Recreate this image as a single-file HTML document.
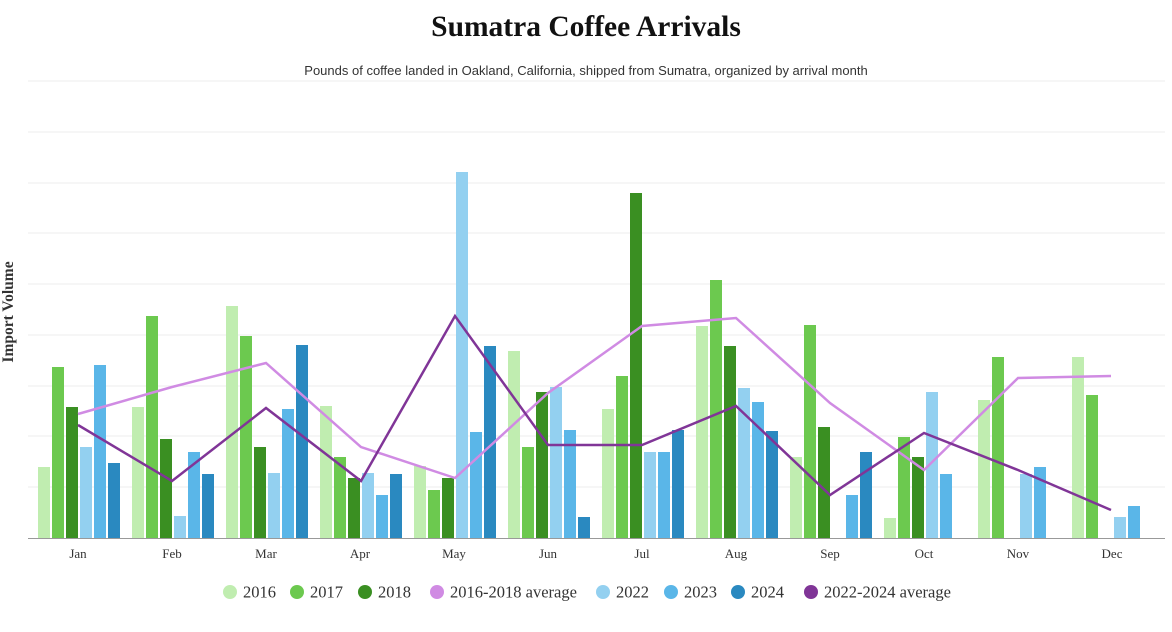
<!DOCTYPE html>
<html><head><meta charset="utf-8"><style>
body{margin:0;background:#fff;}
svg text{font-family:"Liberation Serif",serif;}
</style></head><body>
<svg width="1172" height="627" xmlns="http://www.w3.org/2000/svg">
<text x="586" y="36" text-anchor="middle" font-size="29.5" font-weight="bold" fill="#111">Sumatra Coffee Arrivals</text>
<text x="586" y="75" text-anchor="middle" font-size="13" fill="#333" style="font-family:'Liberation Sans',sans-serif">Pounds of coffee landed in Oakland, California, shipped from Sumatra, organized by arrival month</text>
<text transform="translate(13,312) rotate(-90)" text-anchor="middle" font-size="15.5" font-weight="bold" fill="#333">Import Volume</text>
<g stroke="#eee" stroke-width="1">
<line x1="28" x2="1165" y1="81" y2="81"/><line x1="28" x2="1165" y1="132" y2="132"/><line x1="28" x2="1165" y1="183" y2="183"/><line x1="28" x2="1165" y1="233" y2="233"/><line x1="28" x2="1165" y1="284" y2="284"/><line x1="28" x2="1165" y1="335" y2="335"/><line x1="28" x2="1165" y1="386" y2="386"/><line x1="28" x2="1165" y1="436" y2="436"/><line x1="28" x2="1165" y1="487" y2="487"/>
</g>
<g id="bars"></g>
<line x1="28" x2="1165" y1="538.5" y2="538.5" stroke="#999"/>
<g id="ticks" font-size="13" fill="#333" text-anchor="middle"></g>
<polyline fill="none" stroke="#d08be3" stroke-width="2.5" points="78,414 172,387 266,363 361,447 455,478 548,393 642,326 736,318 830,403 924,470 1018,378 1111,376"/>
<polyline fill="none" stroke="#803597" stroke-width="2.5" points="78,425 172,481 266,408 361,481 455,316 548,445 642,445 736,406 830,495 924,433 1018,470 1111,510"/>
<g font-size="16.5" fill="#333">
<circle cx="230" cy="592" r="7" fill="#c0edb0"/><text x="243" y="597.5">2016</text>
<circle cx="297" cy="592" r="7" fill="#6cc94f"/><text x="310" y="597.5">2017</text>
<circle cx="365" cy="592" r="7" fill="#3a8f22"/><text x="378" y="597.5">2018</text>
<circle cx="437" cy="592" r="7" fill="#d08be3"/><text x="450" y="597.5">2016-2018 average</text>
<circle cx="603" cy="592" r="7" fill="#93d0f0"/><text x="616" y="597.5">2022</text>
<circle cx="671" cy="592" r="7" fill="#5ab6e8"/><text x="684" y="597.5">2023</text>
<circle cx="738" cy="592" r="7" fill="#2a89c0"/><text x="751" y="597.5">2024</text>
<circle cx="811" cy="592" r="7" fill="#803597"/><text x="824" y="597.5">2022-2024 average</text>
</g>
</svg>
<script>
var cols=["#c0edb0","#6cc94f","#3a8f22","#93d0f0","#5ab6e8","#2a89c0"];
var months=["Jan","Feb","Mar","Apr","May","Jun","Jul","Aug","Sep","Oct","Nov","Dec"];
var d=[[467,367,407,447,365,463],[407,316,439,516,452,474],[306,336,447,473,409,345],[406,457,478,473,495,474],[466,490,478,172,432,346],[351,447,392,387,430,517],[409,376,193,452,452,430],[326,280,346,388,402,431],[457,325,427,0,495,452],[518,437,457,392,474,0],[400,357,0,474,467,0],[357,395,0,517,506,0]];
var ns="http://www.w3.org/2000/svg",b=document.getElementById("bars"),t=document.getElementById("ticks");
for(var m=0;m<12;m++){var c=78+m*94;
for(var i=0;i<6;i++){var y=d[m][i];if(!y)continue;var r=document.createElementNS(ns,"rect");
r.setAttribute("x",c-40+i*14);r.setAttribute("width",12);r.setAttribute("y",y);r.setAttribute("height",538-y);r.setAttribute("fill",cols[i]);b.appendChild(r);}
var tx=document.createElementNS(ns,"text");tx.setAttribute("x",c);tx.setAttribute("y",558);tx.textContent=months[m];t.appendChild(tx);}
</script>
</body></html>
